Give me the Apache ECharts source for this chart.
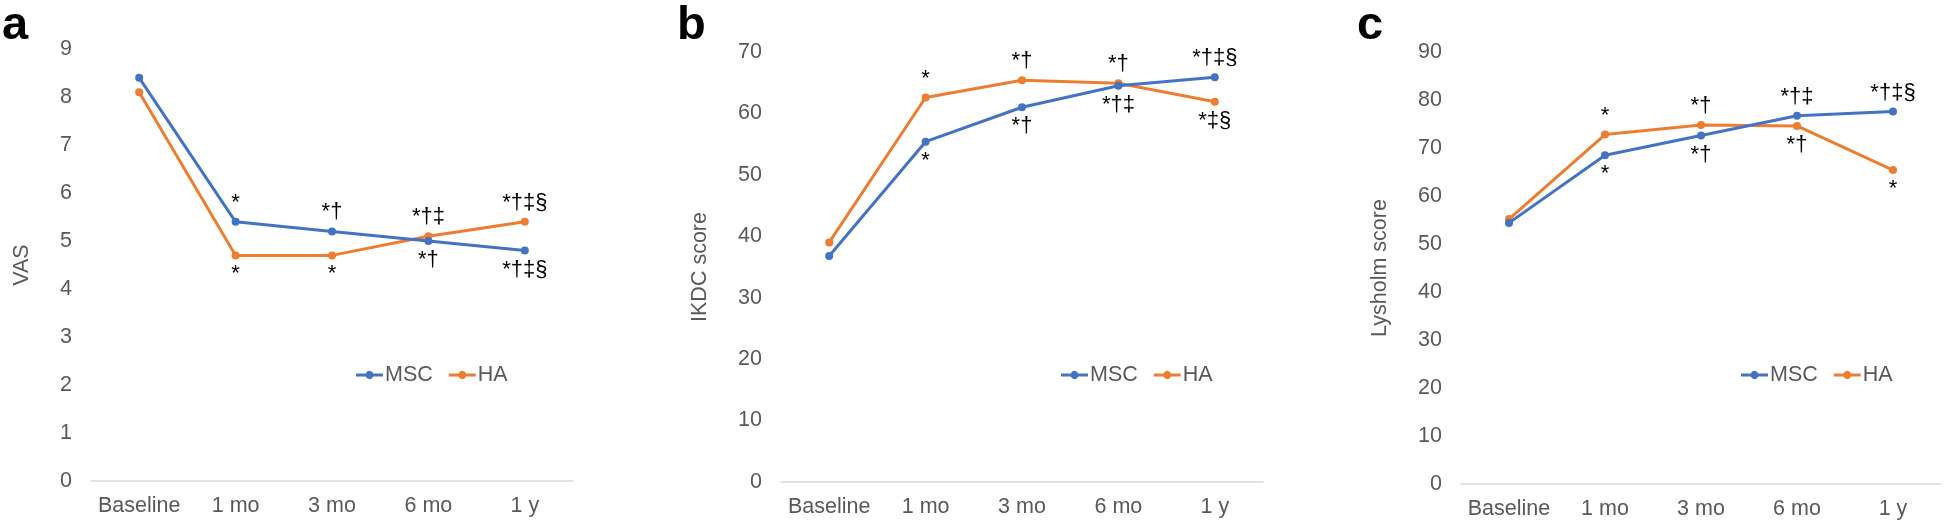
<!DOCTYPE html>
<html>
<head>
<meta charset="utf-8">
<script src="https://cdn.jsdelivr.net/npm/echarts@6/dist/echarts.min.js"></script>
<style>
html,body{margin:0;padding:0;background:#fff;}
#c{width:1946px;height:527px;}
</style>
</head>
<body>
<div id="c"></div>
<script>
// ---- data ----
const categories = ['Baseline', '1 mo', '3 mo', '6 mo', '1 y'];
const seriesNames = ['MSC', 'HA'];

const panelLetters = ['a', 'b', 'c'];
const axisTitles = ['VAS', 'IKDC score', 'Lysholm score'];
const yMax = [9, 70, 90];
const yStep = [1, 10, 10];

const vasMSC = [8.4, 5.4, 5.2, 5.0, 4.8];
const vasHA = [8.1, 4.7, 4.7, 5.1, 5.4];
const ikdcMSC = [36.8, 55.4, 61.0, 64.5, 65.9];
const ikdcHA = [39.0, 62.6, 65.4, 64.9, 61.9];
const lysMSC = [54.4, 68.5, 72.6, 76.7, 77.6];
const lysHA = [55.2, 72.8, 74.8, 74.6, 65.4];

// significance marks and on which side of the point they sit
const vasMSCMarks = ['', '*', '*†', '*†', '*†‡§'];
const vasMSCSide = ['', 'top', 'top', 'bottom', 'bottom'];
const vasHAMarks = ['', '*', '*', '*†‡', '*†‡§'];
const vasHASide = ['', 'bottom', 'bottom', 'top', 'top'];
const ikdcMSCMarks = ['', '*', '*†', '*†‡', '*†‡§'];
const ikdcMSCSide = ['', 'bottom', 'bottom', 'bottom', 'top'];
const ikdcHAMarks = ['', '*', '*†', '*†', '*‡§'];
const ikdcHASide = ['', 'top', 'top', 'top', 'bottom'];
const lysMSCMarks = ['', '*', '*†', '*†‡', '*†‡§'];
const lysMSCSide = ['', 'bottom', 'bottom', 'top', 'top'];
const lysHAMarks = ['', '*', '*†', '*†', '*'];
const lysHASide = ['', 'top', 'top', 'bottom', 'bottom'];

// ---- layout / style ----
const colors = ['#4472C4', '#ED7D31'];
const grey = '#595959';
const FONT = 'Liberation Sans, Arial, sans-serif';
const grids = [
  {left: 91, width: 482, top: 49, height: 432},
  {left: 781, width: 482, top: 52, height: 430},
  {left: 1461, width: 480, top: 52, height: 432}
];
const letterPos = [2, 677, 1357];
const legendLeft = [356, 1061, 1741];
const nameGaps = [58, 70, 70];
// legend icon: line with a dot in the middle
const legendIcon = 'path://M0,2.5H9.79A4,4 0 0 1 17.21,2.5H27V5.5H17.21A4,4 0 0 1 9.79,5.5H0Z';

const panels = [
  {msc: vasMSC, ha: vasHA, mM: vasMSCMarks, mS: vasMSCSide, hM: vasHAMarks, hS: vasHASide},
  {msc: ikdcMSC, ha: ikdcHA, mM: ikdcMSCMarks, mS: ikdcMSCSide, hM: ikdcHAMarks, hS: ikdcHASide},
  {msc: lysMSC, ha: lysHA, mM: lysMSCMarks, mS: lysMSCSide, hM: lysHAMarks, hS: lysHASide}
];

function withMarks(values, marks, sides) {
  return values.map((v, i) => ({
    value: v,
    label: marks[i] ? {show: true, formatter: marks[i], position: sides[i]} : {show: false}
  }));
}

const option = {
  animation: false,
  backgroundColor: '#fff',
  textStyle: {fontFamily: FONT},
  title: panelLetters.map((t, i) => ({
    text: t, left: letterPos[i], top: 3, padding: 0,
    textStyle: {fontSize: 47, fontWeight: 'bold', color: '#000', fontFamily: FONT}
  })),
  legend: [0, 1, 2].map(i => ({
    data: seriesNames.map(n => ({name: n + '_' + i, icon: legendIcon})),
    formatter: name => name.split('_')[0],
    left: legendLeft[i], top: 364, padding: 0,
    itemWidth: 27, itemHeight: 8, itemGap: 16,
    textStyle: {fontSize: 21.5, color: grey, fontFamily: FONT, padding: [0, 0, 0, -3]}
  })),
  grid: grids,
  xAxis: grids.map((g, i) => ({
    type: 'category', gridIndex: i, data: categories, boundaryGap: true,
    axisLine: {lineStyle: {color: '#d9d9d9', width: 1.5}},
    axisTick: {show: false},
    axisLabel: {interval: 0, fontSize: 21.5, color: grey, margin: 14, fontFamily: FONT}
  })),
  yAxis: grids.map((g, i) => ({
    type: 'value', gridIndex: i, min: 0, max: yMax[i], interval: yStep[i],
    name: axisTitles[i], nameLocation: 'middle', nameGap: nameGaps[i], nameRotate: 90,
    nameTextStyle: {fontSize: 21.5, color: grey, fontFamily: FONT},
    axisLine: {show: false}, axisTick: {show: false}, splitLine: {show: false},
    axisLabel: {fontSize: 21.5, color: grey, margin: 19, fontFamily: FONT}
  })),
  series: []
};

panels.forEach((p, i) => {
  [[p.msc, p.mM, p.mS], [p.ha, p.hM, p.hS]].forEach((s, k) => {
    option.series.push({
      name: seriesNames[k] + '_' + i,
      type: 'line', xAxisIndex: i, yAxisIndex: i,
      data: withMarks(s[0], s[1], s[2]),
      symbol: 'circle', symbolSize: 8,
      itemStyle: {color: colors[k]},
      lineStyle: {color: colors[k], width: 3},
      label: {fontSize: 22, color: '#000', fontFamily: FONT, distance: 4},
      z: k === 0 ? 3 : 2
    });
  });
});

const chart = echarts.init(document.getElementById('c'), null, {renderer: 'canvas'});
chart.setOption(option);
</script>
</body>
</html>
